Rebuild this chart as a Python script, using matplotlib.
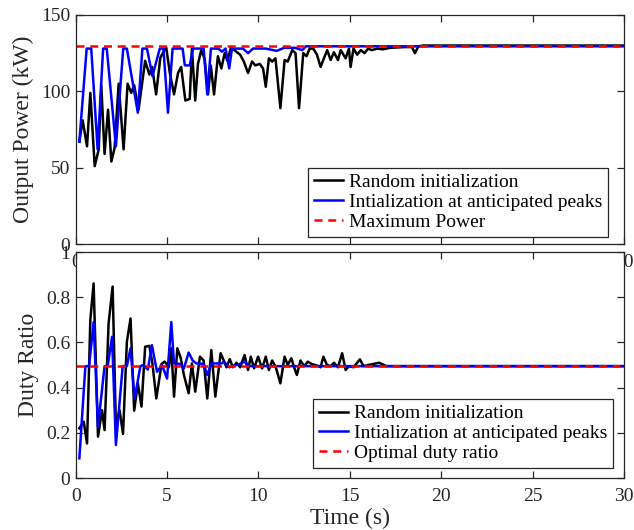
import matplotlib
matplotlib.use("Agg")
import matplotlib.pyplot as plt

# ---------------- data ----------------
# Top panel: output power (kW)
t_rand_p = [0.2, 0.38, 0.62, 0.8, 1.04, 1.26, 1.4, 1.58, 1.77, 1.95, 2.13, 2.35, 2.62, 2.84,
            3.04, 3.2, 3.44, 3.8, 4.03, 4.18, 4.4, 4.63, 4.95, 5.15, 5.38, 5.6, 5.77, 6.0,
            6.24, 6.36, 6.54, 6.69, 6.87, 7.06, 7.24, 7.39, 7.57, 7.78, 7.97, 8.15, 8.3,
            8.5, 8.78, 9.0, 9.2, 9.43, 9.65, 9.83, 10.07, 10.25, 10.4, 10.57, 10.75, 10.93,
            11.2, 11.43, 11.6, 11.85, 12.03, 12.22, 12.45, 12.63, 12.8, 13.0, 13.2, 13.4,
            13.58, 13.76, 13.95, 14.13, 14.35, 14.5, 14.77, 14.95, 15.04, 15.2, 15.4, 15.6,
            15.8, 16.0, 16.2, 16.5, 16.8, 17.2, 18.0, 18.4, 18.56, 18.75, 19.0, 30.0]
p_rand = [67, 81, 64, 99, 51, 62, 104, 59, 88, 54, 63, 105, 62, 105,
          99, 104, 88, 120, 111, 116, 98, 122, 129, 112, 98, 112, 116, 94,
          95, 128, 94, 118, 127, 121, 98, 117, 98, 123, 115, 125, 120,
          129, 126, 124, 119.5, 112, 119.5, 117, 118, 115, 103, 121.6, 119.5, 121.6,
          89, 120.5, 119.5, 127, 125, 89, 125, 123, 128, 128, 124, 116,
          121.6, 127, 120.5, 125.6, 120.5, 127, 121.6, 128, 116, 128, 124, 127,
          125, 128, 127, 128, 127.5, 128.5, 129, 129, 125, 129.5, 130, 130]

t_peak_p = [0.2, 0.6, 0.85, 1.2, 1.5, 1.7, 2.2, 2.6, 2.8, 3.4, 3.65, 3.9, 4.2, 4.6, 4.8,
            5.05, 5.3, 5.85, 5.97, 6.24, 6.42, 7.0, 7.2, 7.4, 7.8, 8.0, 8.2, 8.4, 8.55,
            9.15, 9.43, 9.7, 10.4, 11.0, 11.4, 12.0, 12.4, 12.6, 30.0]
p_peak = [67, 128, 128, 62, 128, 128, 64, 128, 128, 86, 128, 128, 110, 128, 128,
          86, 128, 128, 117, 117, 128, 128, 98, 128, 128, 126, 128, 115, 128,
          128, 125, 128, 128, 126.5, 128.5, 128.5, 127, 129.5, 129.5]

p_max = 130

# Bottom panel: duty ratio
t_rand_d = [0.2, 0.44, 0.62, 0.8, 0.98, 1.22, 1.44, 1.58, 1.8, 2.02, 2.2, 2.4, 2.59, 2.8,
            3.0, 3.2, 3.4, 3.6, 3.8, 4.03, 4.2, 4.41, 4.7, 4.87, 5.1, 5.23, 5.38, 5.56,
            5.75, 5.92, 6.18, 6.36, 6.54, 6.8, 7.0, 7.2, 7.42, 7.64, 7.93, 8.1, 8.25,
            8.43, 8.6, 8.8, 9.0, 9.24, 9.43, 9.58, 9.76, 9.98, 10.2, 10.4, 10.57, 10.75,
            10.95, 11.2, 11.43, 11.6, 11.8, 11.95, 12.1, 12.3, 12.5, 12.7, 12.9, 13.3,
            13.4, 13.55, 13.75, 13.95, 14.13, 14.35, 14.58, 14.77, 14.95, 15.2, 15.55,
            15.75, 16.0, 16.6, 17.0, 30.0]
d_rand = [0.22, 0.249, 0.153, 0.699, 0.861, 0.183, 0.30, 0.212, 0.684, 0.847, 0.227, 0.30, 0.195, 0.603,
          0.706, 0.298, 0.419, 0.316, 0.581, 0.585, 0.505, 0.352, 0.505, 0.515, 0.49, 0.574, 0.36, 0.574,
          0.53, 0.456, 0.375, 0.507, 0.382, 0.537, 0.52, 0.352, 0.566, 0.36, 0.552, 0.52, 0.49,
          0.526, 0.49, 0.51, 0.49, 0.544, 0.478, 0.537, 0.485, 0.537, 0.485, 0.537, 0.478, 0.52,
          0.49, 0.419, 0.537, 0.5, 0.53, 0.49, 0.456, 0.52, 0.495, 0.515, 0.505, 0.495,
          0.49, 0.537, 0.5, 0.495, 0.51, 0.49, 0.552, 0.478, 0.495, 0.49, 0.525,
          0.495, 0.5, 0.51, 0.495, 0.495]

t_peak_d = [0.2, 0.53, 0.73, 0.98, 1.22, 1.58, 1.75, 1.99, 2.2, 2.57, 2.8, 3.0, 3.22, 3.54,
            3.7, 3.95, 4.17, 4.45, 4.72, 5.0, 5.23, 5.38, 5.7, 5.92, 6.18, 6.4, 6.6, 7.0,
            7.2, 7.43, 8.0, 8.1, 8.4, 8.8, 9.0, 9.24, 9.45, 30.0]
d_peak = [0.087, 0.495, 0.495, 0.69, 0.227, 0.495, 0.495, 0.625, 0.146, 0.495, 0.495, 0.574, 0.35, 0.495,
          0.5, 0.48, 0.588, 0.47, 0.5, 0.44, 0.69, 0.507, 0.505, 0.485, 0.555, 0.52, 0.507, 0.505,
          0.456, 0.507, 0.507, 0.515, 0.49, 0.5, 0.505, 0.515, 0.495, 0.495]

d_opt = 0.495

x_ticks = [0, 5, 10, 15, 20, 25, 30]
p_ticks = [0, 50, 100, 150]
d_ticks = [0, 0.2, 0.4, 0.6, 0.8, 1]
d_ticklabels = ["0", "0.2", "0.4", "0.6", "0.8", "1"]

labels_top = ["Random initialization", "Intialization at anticipated peaks", "Maximum Power"]
labels_bot = ["Random initialization", "Intialization at anticipated peaks", "Optimal duty ratio"]

# ---------------- style ----------------
plt.rcParams['font.family'] = ['Liberation Serif', 'DejaVu Serif']
AX = '#262626'

fig = plt.figure(figsize=(6.34, 5.30), dpi=100)
ax1 = fig.add_axes([0.1194, 0.5396, 0.8648, 0.4321])
ax2 = fig.add_axes([0.1194, 0.0981, 0.8648, 0.4264])

LW = 1.8
DASH = (3.2, 2.3)


def style(ax):
    ax.set_xlim(0, 30)
    ax.set_xticks(x_ticks)
    ax.tick_params(direction='in', top=True, right=True, length=5, width=0.9,
                   labelsize=14, colors=AX, labelcolor=AX)
    ax.tick_params(axis='x', pad=7)
    ax.tick_params(axis='y', pad=4)
    for s in ax.spines.values():
        s.set_color(AX)
        s.set_linewidth(0.9)


# Top
ax1.plot(t_rand_p, p_rand, color='black', lw=LW, label=labels_top[0])
ax1.plot(t_peak_p, p_peak, color='#0000ff', lw=LW, label=labels_top[1])
ax1.plot([0, 30], [p_max, p_max], color='#ff0000', lw=LW, dashes=DASH, label=labels_top[2])
style(ax1)
ax1.set_ylim(0, 150)
ax1.set_yticks(p_ticks)
ax1.set_ylabel("Output Power (kW)", fontsize=17, color=AX, labelpad=5)
leg1 = ax1.legend(loc='lower right', bbox_to_anchor=(0.971, 0.031), borderaxespad=0,
                  fontsize=14, frameon=True, fancybox=False, framealpha=1,
                  handlelength=1.5, handletextpad=0.3, labelspacing=0.12, borderpad=0.3)
leg1.get_frame().set_edgecolor(AX)
leg1.get_frame().set_linewidth(0.9)

# Bottom
ax2.plot(t_rand_d, d_rand, color='black', lw=LW, label=labels_bot[0])
ax2.plot(t_peak_d, d_peak, color='#0000ff', lw=LW, label=labels_bot[1])
ax2.plot([0, 30], [d_opt, d_opt], color='#ff0000', lw=LW, dashes=DASH, label=labels_bot[2])
style(ax2)
ax2.set_ylim(0, 1)
ax2.set_yticks(d_ticks)
ax2.set_yticklabels(d_ticklabels)
ax2.set_ylabel("Duty Ratio", fontsize=17, color=AX, labelpad=5)
ax2.set_xlabel("Time (s)", fontsize=17, color=AX, labelpad=2)
leg2 = ax2.legend(loc='lower right', bbox_to_anchor=(0.98, 0.044), borderaxespad=0,
                  fontsize=14, frameon=True, fancybox=False, framealpha=1,
                  handlelength=1.5, handletextpad=0.3, labelspacing=0.12, borderpad=0.3)
leg2.get_frame().set_edgecolor(AX)
leg2.get_frame().set_linewidth(0.9)

fig.savefig("out.png", dpi=100)
